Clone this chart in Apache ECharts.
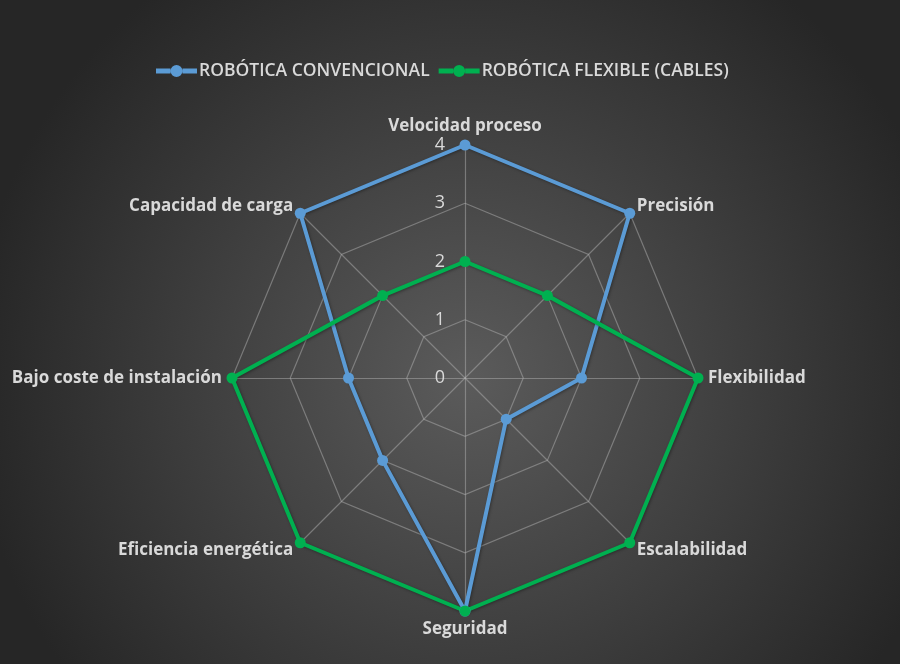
<!DOCTYPE html>
<html>
<head>
<meta charset="utf-8">
<script src="https://cdn.jsdelivr.net/npm/echarts@6/dist/echarts.min.js"></script>
<style>
  html, body { margin: 0; padding: 0; }
  #main { width: 900px; height: 664px; }
</style>
</head>
<body>
<div id="main"></div>
<script>
// clockwise from the top
const indicators = ['Velocidad proceso', 'Precisión', 'Flexibilidad', 'Escalabilidad', 'Seguridad', 'Eficiencia energética', 'Bajo coste de instalación', 'Capacidad de carga'];
const convencional = [4, 4, 2, 1, 4, 2, 2, 4];
const flexible = [2, 2, 4, 4, 4, 4, 4, 2];
const ticks = [0, 1, 2, 3, 4];
const seriesNames = ['ROBÓTICA CONVENCIONAL', 'ROBÓTICA FLEXIBLE (CABLES)'];

// echarts radar goes counter-clockwise, so keep the first one and flip the rest
const cw = arr => [arr[0], ...arr.slice(1).reverse()];

const cx = 465, cy = 378, r = 233;
const font = '"Open Sans", sans-serif';
const txt = '#d9d9d9';
// line with a dot in the middle, like the excel legend key
const lineIcon = 'path://M0,3.5 L14.5,3.5 L14.5,8.5 L0,8.5 Z M26.5,3.5 L41,3.5 L41,8.5 L26.5,8.5 Z M14.5,6 A6,6 0 1,0 26.5,6 A6,6 0 1,0 14.5,6 Z';
const shadow = {shadowColor: 'rgba(0,0,0,0.35)', shadowBlur: 3, shadowOffsetX: 1, shadowOffsetY: 1};

const chart = echarts.init(document.getElementById('main'));
chart.setOption({
	backgroundColor: {
		type: 'radial', x: 0.52, y: 0.57, r: 0.75,
		colorStops: [
			{offset: 0, color: '#5b5b5b'},
			{offset: 1, color: '#262626'}
		]
	},
	legend: {
		top: 57,
		left: 151,
		itemWidth: 41,
		itemHeight: 12,
		itemGap: 9,
		icon: lineIcon,
		textStyle: {color: txt, fontSize: 17.5, fontWeight: 600, fontFamily: font, padding: [0, 0, 0, -3]},
		data: seriesNames
	},
	// hidden cartesian axis only for the 0..4 tick labels along the top spoke
	grid: {left: cx, top: cy - r, width: 1, height: r},
	xAxis: {type: 'value', show: false},
	yAxis: {
		type: 'value', min: 0, max: ticks[ticks.length - 1], interval: 1,
		axisLine: {show: false}, axisTick: {show: false}, splitLine: {show: false},
		axisLabel: {color: txt, fontSize: 18, fontFamily: font, margin: 20}
	},
	radar: {
		center: [cx, cy],
		radius: r,
		shape: 'polygon',
		splitNumber: 4,
		startAngle: 90,
		indicator: cw(indicators).map(name => ({name: name, min: 0, max: 4})),
		axisName: {color: txt, fontSize: 17, fontWeight: 'bold', fontFamily: font},
		nameGap: 10,
		splitArea: {show: false},
		splitLine: {lineStyle: {color: 'rgba(175,175,175,0.5)', width: 1.2}},
		axisLine: {lineStyle: {color: 'rgba(175,175,175,0.5)', width: 1.2}},
		axisLabel: {show: false}
	},
	series: [{
		type: 'radar',
		symbol: 'circle',
		symbolSize: 11,
		data: [
			{
				name: seriesNames[0], value: cw(convencional),
				itemStyle: {color: '#5b9bd5'},
				lineStyle: {color: '#5b9bd5', width: 4, ...shadow}
			},
			{
				name: seriesNames[1], value: cw(flexible),
				itemStyle: {color: '#00b050'},
				lineStyle: {color: '#00b050', width: 4, ...shadow}
			}
		]
	}]
});
</script>
</body>
</html>
